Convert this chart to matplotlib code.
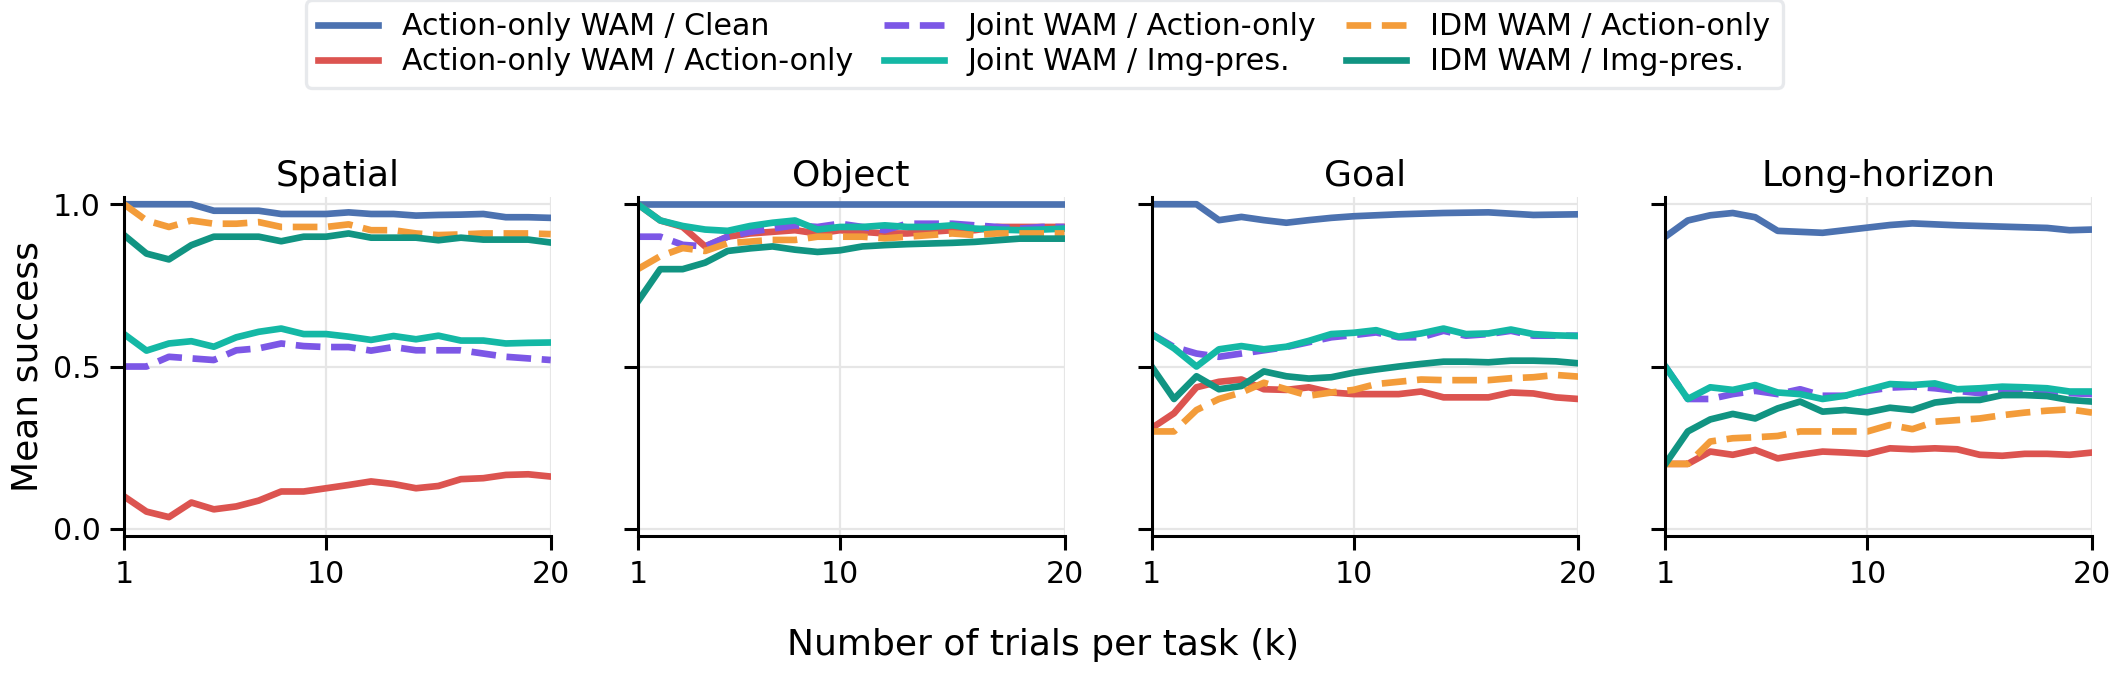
import matplotlib
matplotlib.use("Agg")
import matplotlib.pyplot as plt
import numpy as np

# trials per task
k = np.arange(1, 21)

suites = ["Spatial", "Object", "Goal", "Long-horizon"]

labels = [
    "Action-only WAM / Clean",
    "Action-only WAM / Action-only",
    "Joint WAM / Action-only",
    "Joint WAM / Img-pres.",
    "IDM WAM / Action-only",
    "IDM WAM / Img-pres.",
]
colors = ["#4C72B0", "#DC5450", "#7C57E6", "#14B8A5", "#F39C3A", "#119482"]
styles = ["-", "-", "--", "-", "--", "-"]

# Spatial
spatial_clean = [1.0, 1.0, 1.0, 1.0, 0.98, 0.98, 0.98, 0.97, 0.97, 0.97,
                 0.975, 0.97, 0.97, 0.965, 0.967, 0.968, 0.97, 0.96, 0.96, 0.958]
spatial_ao_ao = [0.10, 0.053, 0.036, 0.081, 0.06, 0.069, 0.087, 0.115, 0.115, 0.125,
                 0.135, 0.146, 0.138, 0.125, 0.132, 0.153, 0.156, 0.166, 0.168, 0.161]
spatial_joint_ao = [0.50, 0.50, 0.53, 0.525, 0.52, 0.55, 0.556, 0.571, 0.563, 0.56,
                    0.56, 0.549, 0.56, 0.55, 0.55, 0.55, 0.54, 0.53, 0.525, 0.52]
spatial_joint_img = [0.60, 0.549, 0.571, 0.578, 0.561, 0.59, 0.607, 0.617, 0.60, 0.60,
                     0.592, 0.582, 0.594, 0.584, 0.595, 0.58, 0.58, 0.571, 0.573, 0.574]
spatial_idm_ao = [1.0, 0.95, 0.93, 0.95, 0.94, 0.94, 0.945, 0.93, 0.93, 0.93,
                  0.938, 0.92, 0.92, 0.91, 0.905, 0.907, 0.91, 0.91, 0.91, 0.908]
spatial_idm_img = [0.905, 0.848, 0.83, 0.874, 0.90, 0.90, 0.90, 0.886, 0.90, 0.90,
                   0.91, 0.897, 0.897, 0.897, 0.889, 0.897, 0.891, 0.891, 0.891, 0.882]

# Object
object_clean = [1.0] * 20
object_ao_ao = [1.0, 0.95, 0.93, 0.87, 0.90, 0.91, 0.915, 0.92, 0.91, 0.92,
                0.915, 0.91, 0.91, 0.915, 0.92, 0.92, 0.93, 0.93, 0.93, 0.93]
object_joint_ao = [0.90, 0.90, 0.875, 0.87, 0.90, 0.915, 0.925, 0.935, 0.93, 0.94,
                   0.93, 0.92, 0.94, 0.94, 0.94, 0.935, 0.93, 0.925, 0.93, 0.93]
object_joint_img = [1.0, 0.95, 0.933, 0.922, 0.918, 0.933, 0.943, 0.95, 0.922, 0.93,
                    0.93, 0.935, 0.93, 0.93, 0.935, 0.925, 0.922, 0.92, 0.922, 0.925]
object_idm_ao = [0.80, 0.84, 0.865, 0.856, 0.88, 0.885, 0.89, 0.89, 0.90, 0.90,
                 0.90, 0.895, 0.90, 0.905, 0.91, 0.905, 0.91, 0.91, 0.91, 0.91]
object_idm_img = [0.70, 0.80, 0.80, 0.82, 0.856, 0.864, 0.87, 0.86, 0.853, 0.858,
                  0.87, 0.874, 0.877, 0.879, 0.881, 0.884, 0.889, 0.894, 0.894, 0.894]

# Goal
goal_clean = [1.0, 1.0, 1.0, 0.951, 0.961, 0.951, 0.943, 0.951, 0.958, 0.963,
              0.966, 0.969, 0.971, 0.973, 0.974, 0.975, 0.971, 0.967, 0.968, 0.969]
goal_ao_ao = [0.31, 0.356, 0.436, 0.453, 0.46, 0.43, 0.428, 0.436, 0.42, 0.415,
              0.415, 0.415, 0.423, 0.405, 0.405, 0.405, 0.42, 0.417, 0.405, 0.40]
goal_joint_ao = [0.60, 0.56, 0.54, 0.53, 0.54, 0.55, 0.56, 0.575, 0.59, 0.597,
                 0.605, 0.59, 0.59, 0.61, 0.595, 0.60, 0.61, 0.595, 0.595, 0.595]
goal_joint_img = [0.60, 0.556, 0.50, 0.553, 0.563, 0.553, 0.561, 0.579, 0.60, 0.604,
                  0.612, 0.592, 0.602, 0.617, 0.60, 0.602, 0.614, 0.60, 0.596, 0.594]
goal_idm_ao = [0.30, 0.30, 0.366, 0.40, 0.42, 0.45, 0.43, 0.41, 0.42, 0.428,
               0.446, 0.453, 0.46, 0.458, 0.458, 0.458, 0.464, 0.467, 0.474, 0.469]
goal_idm_img = [0.50, 0.40, 0.47, 0.43, 0.44, 0.485, 0.47, 0.463, 0.467, 0.481,
                0.491, 0.50, 0.508, 0.515, 0.515, 0.513, 0.518, 0.518, 0.516, 0.51]

# Long-horizon
long_clean = [0.90, 0.95, 0.966, 0.973, 0.96, 0.918, 0.915, 0.912, 0.92, 0.928,
              0.936, 0.941, 0.938, 0.935, 0.933, 0.931, 0.929, 0.927, 0.92, 0.922]
long_ao_ao = [0.20, 0.20, 0.238, 0.228, 0.243, 0.217, 0.228, 0.238, 0.235, 0.231,
              0.248, 0.245, 0.248, 0.245, 0.228, 0.225, 0.231, 0.231, 0.228, 0.235]
long_joint_ao = [0.50, 0.40, 0.40, 0.415, 0.425, 0.415, 0.43, 0.41, 0.41, 0.425,
                 0.435, 0.438, 0.433, 0.425, 0.418, 0.425, 0.423, 0.418, 0.418, 0.415]
long_joint_img = [0.50, 0.40, 0.436, 0.428, 0.443, 0.42, 0.415, 0.40, 0.41, 0.428,
                  0.446, 0.443, 0.448, 0.43, 0.433, 0.438, 0.436, 0.433, 0.423, 0.423]
long_idm_ao = [0.20, 0.20, 0.269, 0.279, 0.282, 0.286, 0.30, 0.30, 0.30, 0.30,
               0.32, 0.307, 0.33, 0.335, 0.34, 0.35, 0.358, 0.364, 0.368, 0.358]
long_idm_img = [0.20, 0.30, 0.337, 0.354, 0.34, 0.371, 0.392, 0.361, 0.366, 0.359,
                0.373, 0.366, 0.389, 0.397, 0.397, 0.412, 0.412, 0.409, 0.397, 0.392]

panels = [
    [spatial_clean, spatial_ao_ao, spatial_joint_ao, spatial_joint_img, spatial_idm_ao, spatial_idm_img],
    [object_clean, object_ao_ao, object_joint_ao, object_joint_img, object_idm_ao, object_idm_img],
    [goal_clean, goal_ao_ao, goal_joint_ao, goal_joint_img, goal_idm_ao, goal_idm_img],
    [long_clean, long_ao_ao, long_joint_ao, long_joint_img, long_idm_ao, long_idm_img],
]

plt.rcParams['font.family'] = ['DejaVu Sans']

fig, axes = plt.subplots(1, 4, figsize=(10.58, 3.375), dpi=200, sharey=True)
fig.subplots_adjust(left=0.0586, right=0.9887, bottom=0.206, top=0.708, wspace=0.204)

for ax, title, series in zip(axes, suites, panels):
    for vals, lab, col, ls in zip(series, labels, colors, styles):
        ax.plot(k, vals, color=col, linestyle=ls, lw=2.4, label=lab)
    ax.set_title(title, fontsize=13, pad=4)
    ax.set_xlim(1, 20)
    ax.set_ylim(-0.022, 1.022)
    ax.set_xticks([1, 10, 20])
    ax.set_yticks([0.0, 0.5, 1.0])
    ax.grid(True, color="#e6e6e6", lw=0.8)
    ax.set_axisbelow(True)
    ax.spines['top'].set_visible(False)
    ax.spines['right'].set_visible(False)
    ax.spines['left'].set_linewidth(1.1)
    ax.spines['bottom'].set_linewidth(1.1)
    ax.tick_params(axis='both', labelsize=10.8, width=1.1, length=5, direction='out')

axes[0].set_ylabel("Mean success", fontsize=13, labelpad=3)
fig.text(0.493, 0.045, "Number of trials per task (k)", ha='center', va='center', fontsize=13)

handles, labs = axes[0].get_legend_handles_labels()
leg = fig.legend(handles, labs, loc='upper center', bbox_to_anchor=(0.4936, 1.0), ncol=3,
                 fontsize=10.8, frameon=True, fancybox=True, handlelength=2.0,
                 columnspacing=1.0, handletextpad=0.8, labelspacing=0.2, borderpad=0.4,
                 borderaxespad=0.0)
leg.get_frame().set_edgecolor("#e2e4e8")
leg.get_frame().set_linewidth(1.2)

fig.savefig("out.png", dpi=200)
